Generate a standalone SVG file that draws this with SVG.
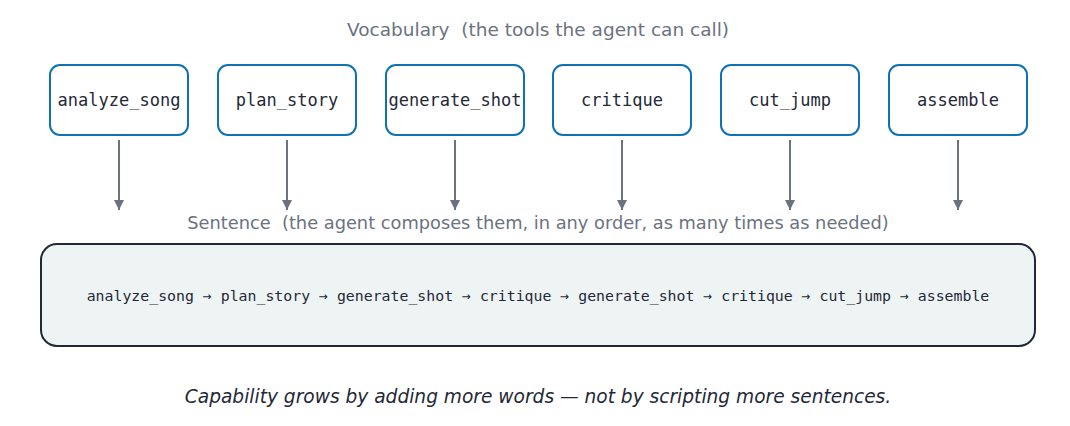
<svg xmlns="http://www.w3.org/2000/svg" width="1070" height="426" viewBox="0 0 1070 426">
<defs>
<marker id="ah" viewBox="0 0 10 10" refX="10" refY="5" markerWidth="10" markerHeight="10" markerUnits="userSpaceOnUse" orient="auto">
<path d="M0,0 L10,5 L0,10 z" fill="#6b7280"/>
</marker>
</defs>
<style>
.hdr{font-family:"DejaVu Sans",sans-serif;fill:#6b7280;text-anchor:middle;white-space:pre}
.tool rect{fill:#ffffff;stroke:#0f72b5;stroke-width:2}
.tool text{font-family:"DejaVu Sans Mono",monospace;font-size:17px;fill:#1f2937;text-anchor:middle;dominant-baseline:central}
.conn line{stroke:#6b7280;stroke-width:2;marker-end:url(#ah)}
</style>
<rect width="1070" height="426" fill="#ffffff"/>
<text class="hdr" x="538" y="36" font-size="18.5" xml:space="preserve">Vocabulary  (the tools the agent can call)</text>
<g id="n1" class="tool"><rect x="50" y="65" width="138" height="70" rx="10"/><text x="119" y="100">analyze_song</text></g>
<g id="n2" class="tool"><rect x="218" y="65" width="138" height="70" rx="10"/><text x="287" y="100">plan_story</text></g>
<g id="n3" class="tool"><rect x="386" y="65" width="138" height="70" rx="10"/><text x="455" y="100">generate_shot</text></g>
<g id="n4" class="tool"><rect x="553" y="65" width="138" height="70" rx="10"/><text x="622" y="100">critique</text></g>
<g id="n5" class="tool"><rect x="721" y="65" width="138" height="70" rx="10"/><text x="790" y="100">cut_jump</text></g>
<g id="n6" class="tool"><rect x="889" y="65" width="138" height="70" rx="10"/><text x="958" y="100">assemble</text></g>
<g id="connectors" class="conn">
<line x1="119" y1="140" x2="119" y2="210"/>
<line x1="287" y1="140" x2="287" y2="210"/>
<line x1="455" y1="140" x2="455" y2="210"/>
<line x1="622" y1="140" x2="622" y2="210"/>
<line x1="790" y1="140" x2="790" y2="210"/>
<line x1="958" y1="140" x2="958" y2="210"/>
</g>
<text class="hdr" x="538" y="229" font-size="17.8" xml:space="preserve">Sentence  (the agent composes them, in any order, as many times as needed)</text>
<g id="sentence">
<rect x="41" y="244" width="994" height="102" rx="16" fill="#eef3f4" stroke="#1f2937" stroke-width="2"/>
<text x="538" y="296" font-family="DejaVu Sans Mono, monospace" font-size="14.85" fill="#1f2937" text-anchor="middle" dominant-baseline="central">analyze_song → plan_story → generate_shot → critique → generate_shot → critique → cut_jump → assemble</text>
</g>
<text x="538" y="403" font-family="DejaVu Sans, sans-serif" font-size="18.6" font-style="italic" fill="#1f2937" text-anchor="middle">Capability grows by adding more words — not by scripting more sentences.</text>
</svg>
